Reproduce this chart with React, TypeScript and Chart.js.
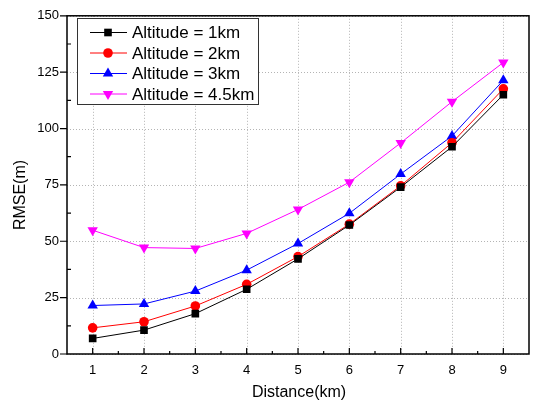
import React, { useEffect, useRef } from "react";
import { Chart, registerables } from "chart.js";

Chart.register(...registerables);

const distances = [1, 2, 3, 4, 5, 6, 7, 8, 9];
const alt1 = [6.9, 10.6, 17.9, 28.7, 42.2, 57.2, 74.0, 91.9, 115.0];
const alt2 = [11.6, 14.3, 21.3, 30.9, 43.2, 57.6, 74.6, 93.7, 117.6];
const alt3 = [21.5, 22.2, 27.9, 37.2, 49.0, 62.4, 79.8, 96.7, 121.4];
const alt45 = [54.9, 47.2, 46.8, 53.5, 64.1, 76.2, 93.6, 111.9, 129.3];
const seriesLabels = ["Altitude = 1km", "Altitude = 2km", "Altitude = 3km", "Altitude = 4.5km"];
const xTicks = [1, 2, 3, 4, 5, 6, 7, 8, 9];
const yTicks = [0, 25, 50, 75, 100, 125, 150];
const xTitle = "Distance(km)";
const yTitle = "RMSE(m)";

const FONT = "'Liberation Sans', Arial, sans-serif";

const styles = [
  { color: "#000000", point: "rect", radius: 5.4, rotation: 0 },
  { color: "#ff0000", point: "circle", radius: 4.8, rotation: 0 },
  { color: "#0000ff", point: "triangle", radius: 6, rotation: 0 },
  { color: "#ff00ff", point: "triangle", radius: 6, rotation: 180 },
];

function drawMarker(ctx: CanvasRenderingContext2D, kind: string, r: number, rot: number, x: number, y: number) {
  ctx.beginPath();
  if (kind === "rect") {
    const s = r * Math.SQRT1_2;
    ctx.rect(x - s, y - s, 2 * s, 2 * s);
  } else if (kind === "circle") {
    ctx.arc(x, y, r, 0, Math.PI * 2);
  } else {
    let rad = (rot * Math.PI) / 180;
    ctx.moveTo(x + Math.sin(rad) * r, y - Math.cos(rad) * r);
    rad += (2 * Math.PI) / 3;
    ctx.lineTo(x + Math.sin(rad) * r, y - Math.cos(rad) * r);
    rad += (2 * Math.PI) / 3;
    ctx.lineTo(x + Math.sin(rad) * r, y - Math.cos(rad) * r);
    ctx.closePath();
  }
  ctx.fill();
}

const gridPlugin = {
  id: "dottedGrid",
  beforeDatasetsDraw(chart: any) {
    const ctx: CanvasRenderingContext2D = chart.ctx;
    const { left, right, top, bottom } = chart.chartArea;
    const xs = chart.scales.x;
    const ys = chart.scales.y;
    ctx.save();
    ctx.strokeStyle = "#b4b4b4";
    ctx.lineWidth = 1;
    ctx.setLineDash([1, 2]);
    ctx.beginPath();
    for (const v of xTicks) {
      const px = Math.round(xs.getPixelForValue(v)) + 0.5;
      ctx.moveTo(px, top);
      ctx.lineTo(px, bottom);
    }
    for (const v of yTicks) {
      const py = Math.round(ys.getPixelForValue(v)) + 0.5;
      ctx.moveTo(left, py);
      ctx.lineTo(right, py);
    }
    ctx.stroke();
    ctx.restore();
  },
};

const framePlugin = {
  id: "frameDecor",
  afterDraw(chart: any) {
    const ctx: CanvasRenderingContext2D = chart.ctx;
    const { left, right, top, bottom } = chart.chartArea;
    const xs = chart.scales.x;
    const ys = chart.scales.y;
    ctx.save();
    ctx.strokeStyle = "#000";
    ctx.lineWidth = 1.5;
    ctx.strokeRect(left, top, right - left, bottom - top);
    ctx.lineWidth = 1.2;
    ctx.beginPath();
    for (const v of xTicks) {
      const px = xs.getPixelForValue(v);
      ctx.moveTo(px, bottom);
      ctx.lineTo(px, bottom - 6);
    }
    for (let i = 0; i < xTicks.length - 1; i++) {
      const px = xs.getPixelForValue((xTicks[i] + xTicks[i + 1]) / 2);
      ctx.moveTo(px, bottom);
      ctx.lineTo(px, bottom - 3);
    }
    for (const v of yTicks) {
      const py = ys.getPixelForValue(v);
      ctx.moveTo(left, py);
      ctx.lineTo(left - 7, py);
    }
    for (let i = 0; i < yTicks.length - 1; i++) {
      const py = ys.getPixelForValue((yTicks[i] + yTicks[i + 1]) / 2);
      ctx.moveTo(left, py);
      ctx.lineTo(left + 4, py);
    }
    ctx.stroke();

    ctx.fillStyle = "#000";
    ctx.font = `16px ${FONT}`;
    ctx.textAlign = "center";
    ctx.textBaseline = "middle";
    ctx.fillText(xTitle, (left + right) / 2 + 1, 393);
    ctx.save();
    ctx.translate(21, 195);
    ctx.rotate(-Math.PI / 2);
    ctx.fillText(yTitle, 0, 0);
    ctx.restore();

    const bx = 77, by = 18, bw = 181, bh = 86;
    ctx.fillStyle = "#fff";
    ctx.fillRect(bx, by, bw, bh);
    ctx.strokeStyle = "#333";
    ctx.lineWidth = 1;
    ctx.strokeRect(bx + 0.5, by + 0.5, bw, bh);
    const rows = [32.5, 53, 73.5, 94];
    ctx.font = `17px ${FONT}`;
    ctx.textAlign = "left";
    ctx.textBaseline = "middle";
    seriesLabels.forEach((lab, i) => {
      const st = styles[i];
      const y = rows[i];
      ctx.strokeStyle = st.color;
      ctx.lineWidth = 1;
      ctx.beginPath();
      ctx.moveTo(90, y);
      ctx.lineTo(127, y);
      ctx.stroke();
      ctx.fillStyle = st.color;
      drawMarker(ctx, st.point, st.radius, st.rotation, 108, y);
      ctx.fillStyle = "#000";
      ctx.fillText(lab, 132, y + 1);
    });
    ctx.restore();
  },
};

export default function App() {
  const ref = useRef<HTMLCanvasElement | null>(null);
  useEffect(() => {
    if (!ref.current) return;
    const allSeries = [alt1, alt2, alt3, alt45];
    const chart = new Chart(ref.current, {
      type: "line",
      data: {
        datasets: allSeries.map((s, i) => ({
          label: seriesLabels[i],
          data: s.map((v, j) => ({ x: distances[j], y: v })),
          borderColor: styles[i].color,
          backgroundColor: styles[i].color,
          borderWidth: 1,
          pointStyle: styles[i].point as any,
          pointRadius: styles[i].radius,
          pointRotation: styles[i].rotation,
          pointBorderWidth: 0,
          pointBackgroundColor: styles[i].color,
          tension: 0,
        })),
      },
      options: {
        responsive: false,
        animation: false,
        layout: { padding: { top: 14, right: 3, left: 0, bottom: 0 } },
        plugins: { legend: { display: false }, tooltip: { enabled: false } },
        scales: {
          x: {
            type: "linear",
            min: 0.5,
            max: 9.5,
            afterBuildTicks: (scale: any) => {
              scale.ticks = xTicks.map((v) => ({ value: v }));
            },
            afterFit: (scale: any) => {
              scale.height = 52;
            },
            grid: { display: false, drawTicks: false } as any,
            border: { display: false } as any,
            ticks: {
              padding: 9,
              color: "#000",
              font: { family: FONT, size: 13 },
              maxRotation: 0,
              callback: (v: any) => String(v),
            },
          },
          y: {
            type: "linear",
            min: 0,
            max: 150,
            afterBuildTicks: (scale: any) => {
              scale.ticks = yTicks.map((v) => ({ value: v }));
            },
            afterFit: (scale: any) => {
              scale.width = 67;
            },
            grid: { display: false, drawTicks: false } as any,
            border: { display: false } as any,
            ticks: {
              padding: 8,
              color: "#000",
              font: { family: FONT, size: 13 },
              callback: (v: any) => String(v),
            },
          },
        },
      },
      plugins: [gridPlugin, framePlugin],
    });
    return () => chart.destroy();
  }, []);
  return (
    <canvas
      ref={ref}
      width={535}
      height={406}
      style={{ position: "absolute", left: 0, top: 0, width: 535, height: 406, display: "block" }}
    />
  );
}
